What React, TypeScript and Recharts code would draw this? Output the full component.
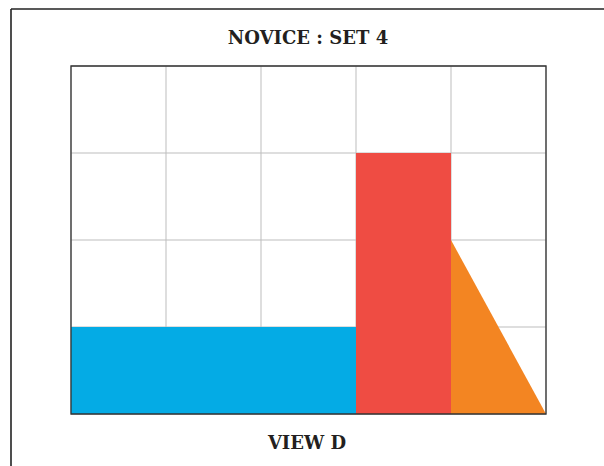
import React from "react";
import { ComposedChart, Area, XAxis, YAxis, CartesianGrid, ReferenceArea } from "recharts";

const title = "NOVICE : SET 4";
const viewLabel = "VIEW D";
const xTicks = [0, 1, 2, 3, 4, 5];
const yTicks = [0, 1, 2, 3, 4];

const blueX = [0, 3];
const blueY = [1, 1];
const redX = [3, 4];
const redY = [3, 3];
const orangeX = [4, 5];
const orangeY = [2, 0];

const toPts = (xs: number[], ys: number[]) => xs.map((x, i) => ({ x, y: ys[i] }));

const W = 604;
const H = 466;

export default function App() {
  return (
    <div style={{ position: "absolute", left: 0, top: 0, width: W, height: H, background: "#fff" }}>
      <ComposedChart
        width={W}
        height={H}
        margin={{ top: 66, right: 58, bottom: 52, left: 71 }}
      >
        <CartesianGrid stroke="#bdbdbd" strokeWidth={1} />
        <XAxis type="number" dataKey="x" domain={[0, 5]} ticks={xTicks} hide allowDataOverflow />
        <YAxis type="number" domain={[0, 4]} ticks={yTicks} hide allowDataOverflow />
        <Area data={toPts(blueX, blueY)} dataKey="y" type="linear" baseValue={0} stroke="none" fill="#04ABE5" fillOpacity={1} isAnimationActive={false} dot={false} activeDot={false} />
        <Area data={toPts(redX, redY)} dataKey="y" type="linear" baseValue={0} stroke="none" fill="#EF4C43" fillOpacity={1} isAnimationActive={false} dot={false} activeDot={false} />
        <Area data={toPts(orangeX, orangeY)} dataKey="y" type="linear" baseValue={0} stroke="none" fill="#F38522" fillOpacity={1} isAnimationActive={false} dot={false} activeDot={false} />
        <ReferenceArea x1={0} x2={5} y1={0} y2={4} fill="none" stroke="#333" strokeWidth={1.3} ifOverflow="visible" />
      </ComposedChart>
      <svg width={W} height={H} style={{ position: "absolute", left: 0, top: 0, pointerEvents: "none" }}>
        <line x1={11} y1={9} x2={W} y2={9} stroke="#222" strokeWidth={1.6} />
        <line x1={11} y1={9} x2={11} y2={H} stroke="#222" strokeWidth={1.6} />
        <text x={308} y={44} textAnchor="middle" fontFamily="'DejaVu Serif'" fontWeight="bold" fontSize={18} fill="#231f20">
          {title}
        </text>
        <text x={307} y={449} textAnchor="middle" fontFamily="'DejaVu Serif'" fontWeight="bold" fontSize={18} fill="#231f20">
          {viewLabel}
        </text>
      </svg>
    </div>
  );
}
